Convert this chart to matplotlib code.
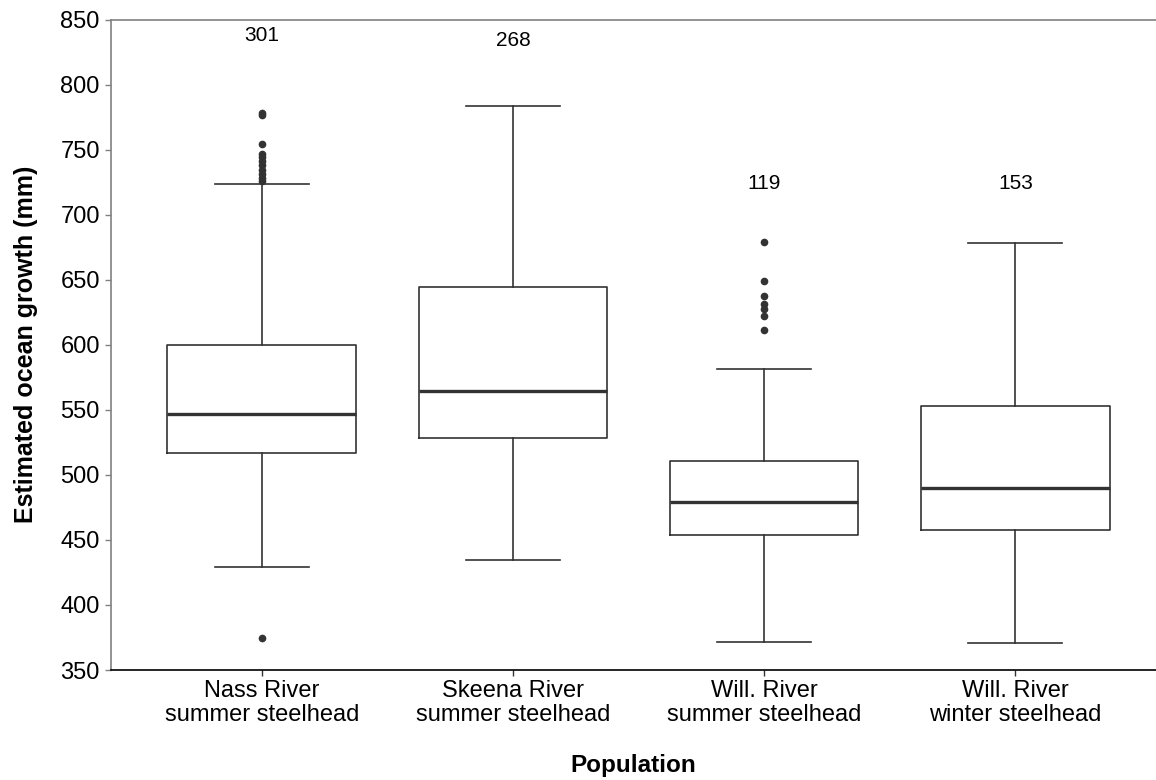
import matplotlib
matplotlib.use("Agg")
import matplotlib.pyplot as plt
import numpy as np

plt.rcParams['font.family'] = ['Liberation Sans', 'DejaVu Sans']

# box summary values
categories = ["Nass River\nsummer steelhead", "Skeena River\nsummer steelhead",
              "Will. River\nsummer steelhead", "Will. River\nwinter steelhead"]
q1 = [516.6, 528.1, 453.7, 457.3]
med = [546.8, 564.2, 479.3, 490.0]
q3 = [599.6, 644.2, 510.8, 552.8]
whislo = [429.4, 434.6, 371.4, 370.8]
whishi = [723.6, 783.5, 581.7, 678.2]
fliers = [
    [374.6, 778.0, 776.5, 754.0, 747.0, 744.0, 741.0, 738.0, 734.0, 731.0, 728.0, 726.0],
    [],
    [679.0, 649.0, 637.5, 631.0, 627.3, 622.3, 611.3],
    [],
]
n_labels = ["301", "268", "119", "153"]
n_label_y = [838, 834, 724, 724]

stats = []
for i in range(len(categories)):
    stats.append({'q1': q1[i], 'med': med[i], 'q3': q3[i],
                  'whislo': whislo[i], 'whishi': whishi[i],
                  'fliers': np.array(fliers[i]), 'label': categories[i]})

fig = plt.figure(figsize=(11.56, 7.8), dpi=100)
ax = fig.add_axes([0.096, 0.141, 0.904, 0.834])

dark = '#333333'
pos = np.arange(len(categories))
ax.bxp(stats, positions=pos, widths=0.75, capwidths=0.375,
       boxprops=dict(color=dark, linewidth=1.2),
       medianprops=dict(color=dark, linewidth=2.4),
       whiskerprops=dict(color=dark, linewidth=1.2),
       capprops=dict(color=dark, linewidth=1.2),
       flierprops=dict(marker='o', markerfacecolor=dark, markeredgecolor=dark,
                       markersize=4.5))

for i in range(len(categories)):
    ax.text(pos[i], n_label_y[i], n_labels[i], ha='center', va='center', fontsize=15)

ax.set_xlim(-0.6, 3.56)
ax.set_ylim(350, 850)
ax.set_yticks(np.arange(350, 851, 50))
ax.set_xticks(pos)
ax.set_xticklabels(categories, fontsize=17, linespacing=1.12)
ax.tick_params(axis='y', labelsize=17, color='#808080', length=4, width=1, pad=4)
ax.tick_params(axis='x', color='#333333', length=4, width=1, pad=3)

ax.spines['right'].set_visible(False)
ax.spines['left'].set_color('#808080')
ax.spines['top'].set_color('#808080')
ax.spines['bottom'].set_color('black')
for s in ax.spines.values():
    s.set_linewidth(1.2)

ax.set_xlabel('Population', fontsize=17.5, fontweight='bold', labelpad=20)
ax.set_ylabel('Estimated ocean growth (mm)', fontsize=18, fontweight='bold', labelpad=16)

fig.savefig('out.png', dpi=100)
